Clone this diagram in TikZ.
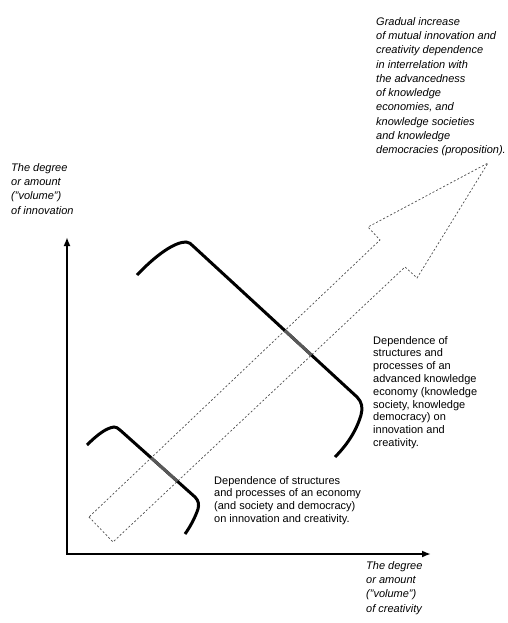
\documentclass[tikz,border=0pt]{standalone}
\usepackage{fontspec}
\setmainfont{Liberation Sans}
\usetikzlibrary{arrows.meta}
\begin{document}
\begin{tikzpicture}[x=1pt,y=-1pt,
  axis/.style={line width=1.8pt, line join=miter, {Latex[length=9pt,width=7pt]}-{Latex[length=9pt,width=7pt]}},
  bracket/.style={line width=3pt},
  bracketmid/.style={line width=3pt, draw=black!65},
  trend/.style={line width=0.7pt, draw=black!70, dash pattern=on 2pt off 2pt},
  note/.style={anchor=north west, inner sep=0pt, align=left, font=\fontsize{11}{12.8}\selectfont},
  inote/.style={anchor=north west, inner sep=0pt, align=left, font=\fontsize{11}{14.3}\selectfont\itshape},
]
\useasboundingbox (0,0) rectangle (507,623);

% axes
\coordinate (O) at (67,554);
\coordinate (ytip) at (67,237);
\coordinate (xtip) at (431,554);
\draw[axis] (ytip) -- (O) -- (xtip);

% dashed trend arrow
\coordinate (s1) at (89,517);
\coordinate (s2) at (113,542);
\coordinate (n1) at (380,240);
\coordinate (n2) at (405,267);
\coordinate (h1) at (368,227);
\coordinate (h2) at (417,278);
\coordinate (tip) at (488,163);
\draw[trend] (s1) -- (s2) -- (n2) -- (h2) -- (tip) -- (h1) -- (n1) -- cycle;

% brackets
\def\bigbracket{(137,275) .. controls (157,254) and (175,242) .. (186,242)
  .. controls (189,242) and (191,244) .. (193,246) -- (357,397)
  .. controls (362,402) and (363,408) .. (361,415)
  .. controls (356,432) and (346,446) .. (335,457)}
\def\smallbracket{(87,445) .. controls (97,435) and (106,428) .. (114,427)
  .. controls (116,427) and (118,428) .. (120,430) -- (195,497)
  .. controls (199,501) and (199,505) .. (198,509)
  .. controls (195,518) and (190,527) .. (185,534)}
\draw[bracket] \bigbracket;
\draw[bracket] \smallbracket;
\begin{scope}
  \clip (s1) -- (s2) -- (n2) -- (h2) -- (tip) -- (h1) -- (n1) -- cycle;
  \draw[bracketmid] \bigbracket;
  \draw[bracketmid] \smallbracket;
\end{scope}

% labels
\node[inote] (ylab) at (11,163) {The degree\\or amount\\("volume")\\of innovation};
\node[inote] (xlab) at (366,561) {The degree\\or amount\\("volume")\\of creativity};
\node[inote] (trendlab) at (376,17) {Gradual increase\\of mutual innovation and\\creativity dependence\\in interrelation with\\the advancedness\\of knowledge\\economies, and\\knowledge societies\\and knowledge\\democracies (proposition).};
\node[note] (biglab) at (373,336) {Dependence of\\structures and\\processes of an\\advanced knowledge\\economy (knowledge\\society, knowledge\\democracy) on\\innovation and\\creativity.};
\node[note] (smalllab) at (214,476) {Dependence of structures\\and processes of an economy\\(and society and democracy)\\on innovation and creativity.};
\end{tikzpicture}
\end{document}
